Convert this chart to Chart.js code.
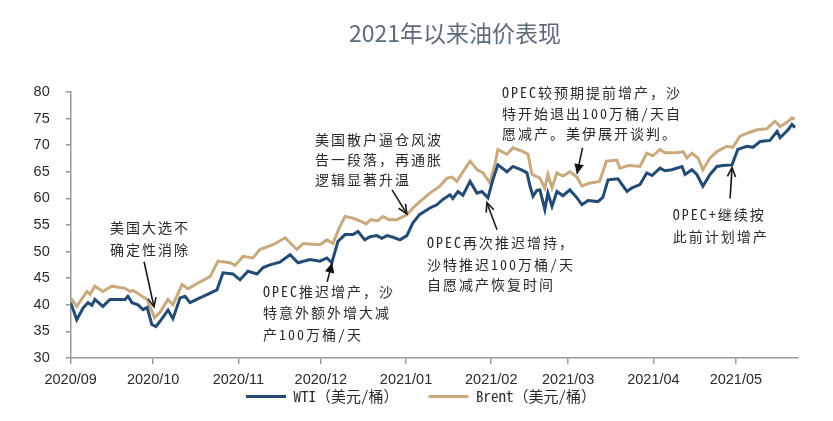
<!DOCTYPE html>
<html>
<head>
<meta charset="utf-8">
<script src="https://cdn.jsdelivr.net/npm/chart.js@4/dist/chart.umd.min.js"></script>
<style>
html,body{margin:0;padding:0;background:#fff;}
#wrap{width:833px;height:421px;position:relative;}
</style>
</head>
<body>
<div id="wrap"><canvas id="c" width="833" height="421"></canvas></div>
<script>
// ---- data ----
const titleText = '2021年以来油价表现';
const monthLabels = ['2020/09','2020/10','2020/11','2020/12','2021/01','2021/02','2021/03','2021/04','2021/05'];
const monthOffsets = [0,30,61,91,122,153,181,212,242]; // days since 2020-09-01
const seriesNames = ['WTI（美元/桶）','Brent（美元/桶）'];

const wtiDays = [0,2.2,4.5,6.3,7.7,8.8,11.7,14.3,19.8,20.8,22.3,24.5,26.3,27.8,29.5,31,32.5,35.4,37.2,39.8,41.6,43.4,47,49.6,53.2,55.4,59,61.6,64.5,67.8,70,72.5,76.1,79.8,82.7,87,90.7,93.2,95,97.2,99.8,102.7,104.5,107,108.9,111.4,113.2,115.1,117.3,119.8,122.3,124.5,127,130.7,133.2,135.4,138,139,140.9,142.7,145.3,147.8,149.6,151.8,153.6,155.4,158.7,160.9,164.2,166,167.1,168.2,169.6,170.7,172.5,173.6,175.1,176.9,179.1,181.6,184.2,186,188.2,191.8,193.6,195.5,199.1,200.6,202.4,204.2,207.1,209.6,211.5,214.4,216.2,218.7,222.4,223.5,226,227.8,230,232.6,235.1,237.3,240.6,242.7,246,248.2,250.8,254.4,257,258.1,261,262.4,263.5];
const wtiValues = [40.4,37.2,39.4,40.4,39.9,41.0,39.7,41.0,41.0,41.6,40.4,40.0,39.1,39.5,36.3,35.9,36.9,39.0,37.4,41.3,41.6,40.4,41.3,41.9,42.8,46.0,45.8,44.7,46.3,45.8,47.0,47.5,48.0,49.4,47.9,48.5,48.2,48.8,47.9,51.9,53.2,53.2,53.8,52.2,52.8,53.0,52.5,53.0,52.7,52.2,53.0,55.4,57.0,58.2,58.8,59.8,60.7,60.0,61.3,60.6,63.2,61.0,61.3,60.1,63.5,66.3,65.0,66.0,65.3,64.8,62.3,60.4,61.5,61.6,57.9,61.0,58.5,61.3,60.5,61.6,60.1,58.8,59.6,59.4,60.2,63.5,63.7,62.6,61.3,62.0,62.6,64.8,64.3,65.7,65.2,65.4,66.0,64.5,65.4,64.5,62.3,64.5,66.0,66.2,66.3,69.2,69.8,69.6,70.7,70.9,72.6,71.4,72.9,73.9,73.3];

const brentDays = [0,2.2,5.9,7,8.8,11.7,15,19.8,21.6,22.7,25.2,27.8,30.5,32.5,35.4,37.2,40.5,42.7,46,50.7,53.6,58,59.8,62.7,66.3,68.8,73.6,78,82.3,84.5,90.7,93.2,95.4,97.9,99.8,102.7,105.6,107.4,109.2,111.8,113.6,115.8,118.7,122.3,124.5,127,130.7,134.3,136.9,138.7,140.5,142.7,145.3,147.8,150,152.5,154.4,155.4,158.7,160.9,164.6,166.4,167.8,170.7,172.5,173.6,175.1,176.9,179.1,181.6,184.2,186,188.2,192.4,194.9,198.7,199.8,203.3,207.1,209.6,211.8,214.4,216.2,220.6,222.8,224.2,226,228.2,230,232.6,235.1,238.7,240.9,243.5,246.4,249.7,253.3,256.2,258.1,260.6,262.4,263.5];
const brentValues = [41.3,39.7,42.5,42.0,43.5,42.5,43.5,43.1,42.5,42.7,41.9,41.0,37.6,38.6,41.0,40.0,43.8,43.0,44.0,45.3,48.2,47.9,47.4,49.1,48.8,50.4,51.3,52.6,50.4,51.5,51.3,52.2,51.5,54.7,56.6,56.3,55.7,55.2,56.0,55.8,56.6,56.0,56.0,56.9,58.2,59.4,61.0,62.3,63.8,64.0,63.2,65.0,67.0,65.4,64.8,62.9,66.6,69.2,68.3,69.5,68.8,68.3,64.5,63.8,61.9,64.5,62.0,64.8,64.2,65.0,64.0,62.3,62.8,63.2,67.0,67.2,65.7,66.2,66.0,68.5,68.0,69.2,68.6,68.6,68.8,67.6,68.5,67.6,65.4,67.6,68.8,69.8,69.6,71.7,72.3,72.9,73.1,74.5,73.5,74.3,75.1,74.9];

// annotations: text lines and arrow anchor points in data coordinates (day offset, price)
const notes = [
  {lines:['美国大选不','确定性消除'], x:14.3, y:[54.5,50.4], from:[26.7,48.1], to:[30.3,39.6], head:'open'},
  {lines:['OPEC推迟增产，沙','特意外额外增大减','产100万桶/天'], x:70, y:[42.5,38.5,34.4], from:[93.3,44.3], to:[95.1,47.9], head:'fill'},
  {lines:['美国散户逼仓风波','告一段落，再通胀','逻辑显著升温'], x:88.9, y:[71.0,67.3,63.5], from:[116.9,61.6], to:[122.3,57.1], head:'open'},
  {lines:['OPEC再次推迟增持，','沙特推迟100万桶/天','自愿减产恢复时间'], x:129.6, y:[51.7,47.5,43.8], from:[155.1,54.1], to:[151.4,59.2], head:'open'},
  {lines:['OPEC较预期提前增产，沙','特开始退出100万桶/天自','愿减产。美伊展开谈判。'], x:156.9, y:[79.9,76.0,72.2], from:[186.2,69.5], to:[184.2,64.6], head:'fill'},
  {lines:['OPEC+继续按','此前计划增产'], x:219, y:[57.0,52.8], from:[239.9,60.0], to:[240.6,65.8], head:'open'}
];

// ---- styling ----
const CJK = "'Noto Sans Mono CJK SC','Noto Sans CJK SC',sans-serif";
const AXIS = '#9a9a9a';

const notesPlugin = {
  id: 'notes',
  afterLayout(chart) {
    // lift the legend row up close under the month labels and centre it like the original
    const l = chart.legend;
    if (l) { l.top -= 29; l.left += 22; l.right += 22; }
  },
  afterDatasetsDraw(chart) {
    const ctx = chart.ctx, xs = chart.scales.x, ys = chart.scales.y;
    ctx.save();
    ctx.font = "23px 'Noto Sans CJK SC',sans-serif";
    ctx.fillStyle = '#5d6b7b';
    ctx.textAlign = 'center';
    ctx.textBaseline = 'middle';
    ctx.fillText(titleText, 455, 33);
    ctx.font = "14px " + CJK;
    ctx.letterSpacing = '2px';
    ctx.fillStyle = '#2a2a2a';
    ctx.textAlign = 'left';
    notes.forEach(n => {
      const px = xs.getPixelForValue(n.x);
      n.lines.forEach((t, i) => ctx.fillText(t, px, ys.getPixelForValue(n.y[i])));
      const x1 = xs.getPixelForValue(n.from[0]), y1 = ys.getPixelForValue(n.from[1]);
      const x2 = xs.getPixelForValue(n.to[0]), y2 = ys.getPixelForValue(n.to[1]);
      const a = Math.atan2(y2 - y1, x2 - x1);
      ctx.strokeStyle = '#1a1a1a';
      ctx.lineWidth = 1.6;
      ctx.beginPath(); ctx.moveTo(x1, y1); ctx.lineTo(x2, y2); ctx.stroke();
      const L = n.head === 'fill' ? 11 : 10, W = n.head === 'fill' ? 0.45 : 0.42;
      const ax = x2 - L * Math.cos(a - W), ay = y2 - L * Math.sin(a - W);
      const bx = x2 - L * Math.cos(a + W), by = y2 - L * Math.sin(a + W);
      ctx.beginPath();
      if (n.head === 'fill') {
        ctx.moveTo(x2, y2); ctx.lineTo(ax, ay); ctx.lineTo(bx, by); ctx.closePath();
        ctx.fillStyle = '#111'; ctx.fill(); ctx.fillStyle = '#2a2a2a';
      } else {
        ctx.moveTo(ax, ay); ctx.lineTo(x2, y2); ctx.lineTo(bx, by); ctx.stroke();
      }
    });
    ctx.restore();
  }
};

const toPts = (d, v) => d.map((x, i) => ({x, y: v[i]}));

new Chart(document.getElementById('c'), {
  type: 'line',
  data: {
    datasets: [
      {label: seriesNames[0], data: toPts(wtiDays, wtiValues), borderColor: '#234b74', backgroundColor: '#234b74', borderWidth: 3, pointRadius: 0, tension: 0},
      {label: seriesNames[1], data: toPts(brentDays, brentValues), borderColor: '#c9aa7c', backgroundColor: '#c9aa7c', borderWidth: 3, pointRadius: 0, tension: 0}
    ]
  },
  options: {
    responsive: false,
    animation: false,
    devicePixelRatio: 1,
    layout: {padding: {top: 92, right: 35, bottom: 7, left: 0}},
    plugins: {
      title: {display: false},
      tooltip: {enabled: false},
      legend: {
        position: 'bottom',
        maxHeight: 26,
        labels: {
          boxWidth: 40, boxHeight: 3, padding: 30,
          font: {size: 15, family: CJK}, color: '#2a2a2a',
          generateLabels: (chart) => Chart.defaults.plugins.legend.labels.generateLabels(chart).map(l => ({...l, lineWidth: 0, fillStyle: l.strokeStyle}))
        }
      }
    },
    scales: {
      x: {
        type: 'linear', min: 0, max: 264.6,
        afterBuildTicks: (s) => { s.ticks = monthOffsets.map(v => ({value: v})); },
        afterFit: (s) => { s.height = 30; },
        ticks: {autoSkip: false, maxRotation: 0, padding: 7, color: '#2a2a2a', font: {size: 14.5, family: "'Liberation Sans',Arial,sans-serif"},
          callback: (v, i) => monthLabels[i]},
        grid: {drawOnChartArea: false, drawTicks: true, tickLength: 6, color: AXIS, lineWidth: 1.5},
        border: {color: AXIS, width: 1.5}
      },
      y: {
        min: 30, max: 80,
        afterFit: (s) => { s.width = 70.7; },
        ticks: {stepSize: 5, padding: 16, color: '#2a2a2a', font: {size: 14.5, family: "'Liberation Sans',Arial,sans-serif"}},
        grid: {drawOnChartArea: false, drawTicks: true, tickLength: 5, color: AXIS, lineWidth: 1.5},
        border: {color: AXIS, width: 1.5}
      }
    }
  },
  plugins: [notesPlugin]
});
</script>
</body>
</html>
